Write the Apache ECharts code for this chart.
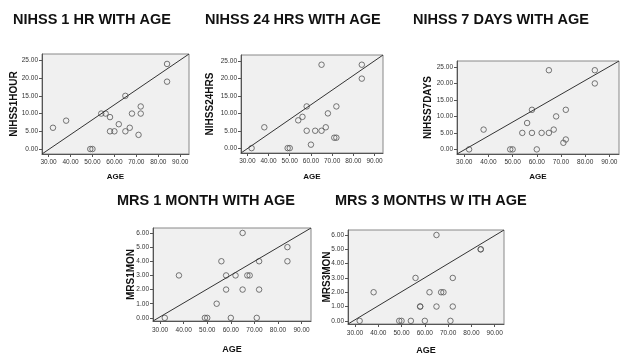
<!DOCTYPE html>
<html>
<head>
<meta charset="utf-8">
<script src="https://cdn.jsdelivr.net/npm/echarts@6/dist/echarts.min.js"></script>
<style>
  html, body { margin: 0; padding: 0; background: #fff; }
  #chart-container { width: 628px; height: 356px; }
</style>
</head>
<body>
<div id="chart-container"></div>
<script>
// patient ages (x of every panel)
const ages = [32, 38, 49, 50, 54, 56, 58, 58, 60, 62, 65, 65, 67, 68, 71, 72, 72, 84, 84];

// scores, same order as ages
const nihss1Hour = [6, 8, 0, 0, 10, 10, 9, 5, 5, 7, 15, 5, 6, 10, 4, 12, 10, 24, 19];
const nihss24Hrs = [0, 6, 0, 0, 8, 9, 12, 5, 1, 5, 24, 5, 6, 10, 3, 3, 12, 24, 20];
const nihss7Days = [0, 6, 0, 0, 5, 8, 12, 5, 0, 5, 24, 5, 6, 10, 2, 3, 12, 24, 20];
const mrs1Mon = [0, 3, 0, 0, 1, 4, 3, 2, 0, 3, 6, 2, 3, 3, 0, 4, 2, 5, 4];
const mrs3Mon = [0, 2, 0, 0, 0, 3, 1, 1, 0, 2, 6, 1, 2, 2, 0, 3, 1, 5, 5];

// tick labels
const ageTicks = [30, 40, 50, 60, 70, 80, 90];
const nihssTicks = [0, 5, 10, 15, 20, 25];
const mrsTicks = [0, 1, 2, 3, 4, 5, 6];

// axis extents and the diagonal reference line (corner to corner)
const ageRange = [27, 94];
const nihssRange = [-1.4, 26.8];
const mrsRange = [-0.22, 6.35];
const nihssLine = [[27, -1.4], [94, 26.8]];
const mrsLine = [[27, -0.22], [94, 6.35]];

const FONT = "'Liberation Sans', Arial, sans-serif";

const panels = [
  { title: "NIHSS 1 HR WITH AGE", yName: "NIHSS1HOUR", values: nihss1Hour, ticks: nihssTicks, range: nihssRange, line: nihssLine,
    grid: { left: 42, top: 54, width: 147, height: 100 }, titlePos: [13, 12], yGap: 23, xGap: 19, xNameSize: 8, xMargin: 5 },
  { title: "NIHSS 24 HRS WITH AGE", yName: "NIHSS24HRS", values: nihss24Hrs, ticks: nihssTicks, range: nihssRange, line: nihssLine,
    grid: { left: 241, top: 55, width: 142, height: 98 }, titlePos: [205, 12], yGap: 26, xGap: 20, xNameSize: 8, xMargin: 5 },
  { title: "NIHSS 7 DAYS WITH AGE", yName: "NIHSS7DAYS", values: nihss7Days, ticks: nihssTicks, range: nihssRange, line: nihssLine,
    grid: { left: 457, top: 61, width: 162, height: 93 }, titlePos: [413, 12], yGap: 24, xGap: 19, xNameSize: 8, xMargin: 5 },
  { title: "MRS 1 MONTH WITH AGE", yName: "MRS1MON", values: mrs1Mon, ticks: mrsTicks, range: mrsRange, line: mrsLine,
    grid: { left: 153, top: 228, width: 158, height: 93 }, titlePos: [117, 193], yGap: 17, xGap: 24, xNameSize: 9, xMargin: 6 },
  { title: "MRS 3 MONTHS W ITH AGE", yName: "MRS3MON", values: mrs3Mon, ticks: mrsTicks, range: mrsRange, line: mrsLine,
    grid: { left: 348, top: 230, width: 156, height: 95 }, titlePos: [335, 193], yGap: 16, xGap: 22, xNameSize: 9, xMargin: 6 }
];

const chart = echarts.init(document.getElementById("chart-container"));

const fmt = (v) => v.toFixed(2);

const option = {
  animation: false,
  backgroundColor: "#fff",
  title: [],
  grid: [],
  xAxis: [],
  yAxis: [],
  series: []
};

panels.forEach((p, i) => {
  option.title.push({
    text: p.title,
    left: p.titlePos[0],
    top: p.titlePos[1],
    padding: 0,
    textStyle: { fontFamily: FONT, fontSize: 14.5, fontWeight: "bold", color: "#111", lineHeight: 15 }
  });

  option.grid.push(Object.assign({
    show: true,
    backgroundColor: "#f0f0f0",
    borderColor: "#888",
    borderWidth: 1
  }, p.grid));

  option.xAxis.push({
    type: "value",
    gridIndex: i,
    min: ageRange[0],
    max: ageRange[1],
    name: "AGE",
    nameLocation: "middle",
    nameGap: p.xGap,
    nameMoveOverlap: false,
    nameTextStyle: { fontFamily: FONT, fontSize: p.xNameSize, fontWeight: "bold", color: "#111" },
    splitLine: { show: false },
    axisLine: { onZero: false, lineStyle: { color: "#555", width: 1 } },
    axisTick: { show: true, length: 3, customValues: ageTicks, lineStyle: { color: "#555" } },
    axisLabel: { customValues: ageTicks, formatter: fmt, fontFamily: FONT, fontSize: 6.5, color: "#333", margin: p.xMargin }
  });

  option.yAxis.push({
    type: "value",
    gridIndex: i,
    min: p.range[0],
    max: p.range[1],
    name: p.yName,
    nameLocation: "middle",
    nameGap: p.yGap,
    nameMoveOverlap: false,
    nameTextStyle: { fontFamily: FONT, fontSize: 10, fontWeight: "bold", color: "#111" },
    splitLine: { show: false },
    axisLine: { show: true, onZero: false, lineStyle: { color: "#555", width: 1 } },
    axisTick: { show: true, length: 3, customValues: p.ticks, lineStyle: { color: "#555" } },
    axisLabel: { customValues: p.ticks, formatter: fmt, fontFamily: FONT, fontSize: 6.5, color: "#333", margin: 4 }
  });

  option.series.push({
    type: "line",
    xAxisIndex: i,
    yAxisIndex: i,
    data: p.line,
    symbol: "none",
    silent: true,
    lineStyle: { color: "#333", width: 1 }
  });

  option.series.push({
    type: "scatter",
    xAxisIndex: i,
    yAxisIndex: i,
    data: ages.map((a, k) => [a, p.values[k]]),
    symbol: "circle",
    symbolSize: 5.5,
    itemStyle: { color: "rgba(0,0,0,0)", borderColor: "#555", borderWidth: 1 }
  });
});

chart.setOption(option);
</script>
</body>
</html>
